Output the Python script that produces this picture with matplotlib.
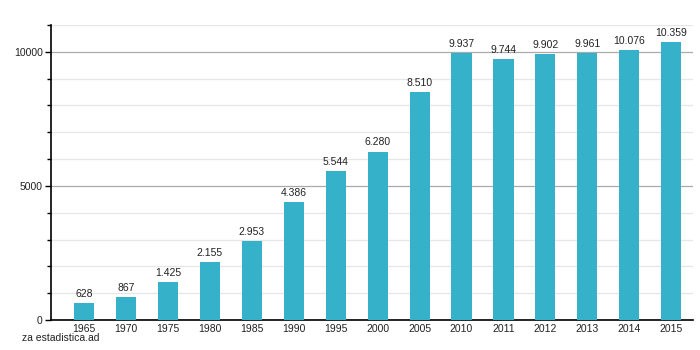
import matplotlib

matplotlib.use("Agg")
import matplotlib.pyplot as plt
from matplotlib.ticker import MultipleLocator

years = ["1965", "1970", "1975", "1980", "1985", "1990", "1995", "2000",
         "2005", "2010", "2011", "2012", "2013", "2014", "2015"]
values = [628, 867, 1425, 2155, 2953, 4386, 5544, 6280,
          8510, 9937, 9744, 9902, 9961, 10076, 10359]
labels = ["628", "867", "1.425", "2.155", "2.953", "4.386", "5.544", "6.280",
          "8.510", "9.937", "9.744", "9.902", "9.961", "10.076", "10.359"]

plt.rcParams["font.family"] = ["Liberation Sans", "DejaVu Sans"]

fig = plt.figure(figsize=(7, 3.5), dpi=100)
ax = fig.add_axes([0.0729, 0.0857, 0.9171, 0.8429])

x = list(range(len(years)))
bars = ax.bar(x, values, width=0.48, color="#35b1ca", zorder=3)

for bar, lab in zip(bars, labels):
    ax.annotate(lab, (bar.get_x() + bar.get_width() / 2, bar.get_height()),
                xytext=(0, 3), textcoords="offset points",
                ha="center", va="bottom", fontsize=7.5, color="#222222")

ax.set_xlim(-0.79, 14.52)
ax.set_ylim(0, 11000)
ax.set_xticks(x)
ax.set_xticklabels(years, fontsize=7.5, color="#222222")
ax.tick_params(axis="x", length=0, pad=3)
ax.yaxis.set_major_locator(MultipleLocator(5000))
ax.yaxis.set_minor_locator(MultipleLocator(1000))
ax.tick_params(axis="y", which="major", length=4, width=1, labelsize=7.5,
               labelcolor="#222222", pad=2)
ax.tick_params(axis="y", which="minor", length=3, width=1)

ax.grid(True, axis="y", which="minor", color="#e6e6e6", linewidth=0.9, zorder=0)
ax.grid(True, axis="y", which="major", color="#aaaaaa", linewidth=0.9, zorder=1)

for side in ("top", "right"):
    ax.spines[side].set_visible(False)
ax.spines["left"].set_linewidth(1.2)
ax.spines["bottom"].set_linewidth(1.2)

fig.text(22 / 700, 1 - 338 / 350, "za estadistica.ad", fontsize=7.5,
         color="#222222", va="center", ha="left")

fig.savefig("out.png", dpi=100)
